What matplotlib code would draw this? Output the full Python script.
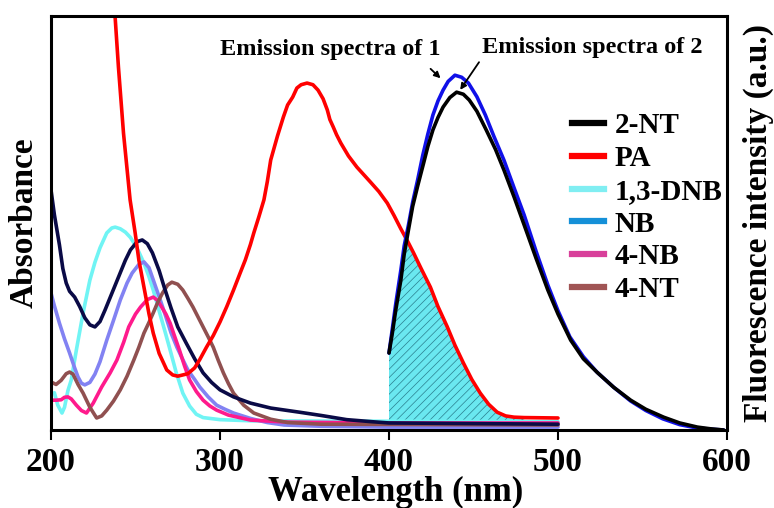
import numpy as np
import matplotlib
matplotlib.use("Agg")
import matplotlib.pyplot as plt
from matplotlib.lines import Line2D

plt.rcParams['font.family'] = ['Liberation Serif', 'DejaVu Serif']
plt.rcParams['font.weight'] = 'bold'
plt.rcParams['hatch.linewidth'] = 0.5

# absorption spectra (normalised absorbance)
wl_2nt = [200, 202, 205, 207, 209, 211, 214, 217, 220, 223, 226, 229, 232, 236,
          240, 244, 247, 251, 254, 257, 260, 264, 267, 271, 275, 280, 285, 290,
          295, 300, 308, 318, 330, 347, 360, 375, 390, 400, 500]
ab_2nt = [0.580, 0.520, 0.447, 0.390, 0.355, 0.335, 0.321, 0.298, 0.271, 0.254,
          0.249, 0.262, 0.290, 0.330, 0.370, 0.410, 0.435, 0.455, 0.459, 0.450,
          0.428, 0.385, 0.345, 0.295, 0.249, 0.210, 0.172, 0.138, 0.115, 0.097,
          0.080, 0.065, 0.053, 0.043, 0.035, 0.025, 0.020, 0.017, 0.014]

wl_nb = [200, 202, 205, 208, 211, 214, 216, 218, 220, 223, 226, 229, 233, 237,
         241, 245, 248, 252, 255, 258, 262, 265, 268, 271, 274.5, 278, 281, 285,
         288, 293, 298, 303, 308, 318, 328, 338, 360, 400, 500]
ab_nb = [0.331, 0.300, 0.258, 0.220, 0.186, 0.150, 0.128, 0.113, 0.109, 0.115,
         0.135, 0.165, 0.217, 0.265, 0.314, 0.355, 0.379, 0.400, 0.406, 0.392,
         0.345, 0.310, 0.273, 0.235, 0.200, 0.170, 0.145, 0.122, 0.104, 0.080,
         0.060, 0.050, 0.041, 0.028, 0.018, 0.012, 0.009, 0.007, 0.007]

wl_dnb = [202, 204, 206.5, 208, 210, 212, 215, 219, 223, 226, 229, 233, 236, 238,
          241, 244, 247, 249, 252, 255, 258, 260.5, 263, 265.5, 268, 270.5, 274,
          278, 282, 286, 290, 300, 320, 500]
ab_dnb = [0.090, 0.060, 0.041, 0.055, 0.095, 0.121, 0.193, 0.283, 0.362, 0.405,
          0.440, 0.476, 0.488, 0.490, 0.486, 0.478, 0.465, 0.452, 0.430, 0.403,
          0.370, 0.338, 0.302, 0.266, 0.230, 0.193, 0.140, 0.089, 0.058, 0.038,
          0.030, 0.025, 0.022, 0.020]

wl_4nb = [200, 203, 206, 208, 210, 212, 215, 218, 221, 225, 230, 235, 239, 243,
          246, 250, 253, 257, 260.5, 263, 265.5, 268, 270.5, 273, 276, 279, 282,
          286, 290, 294, 298, 305, 318, 340, 400, 500]
ab_4nb = [0.072, 0.072, 0.073, 0.079, 0.080, 0.075, 0.060, 0.047, 0.041, 0.065,
          0.104, 0.138, 0.169, 0.212, 0.249, 0.280, 0.297, 0.315, 0.321, 0.313,
          0.297, 0.280, 0.258, 0.228, 0.193, 0.155, 0.121, 0.093, 0.072, 0.058,
          0.048, 0.036, 0.024, 0.019, 0.017, 0.017]

wl_4nt = [200, 203, 206, 209, 211, 213, 216, 219, 223, 227, 230, 233, 237, 241,
          245, 249, 252, 255, 258, 260.5, 263, 266, 269, 271.5, 275, 278, 281,
          284, 287, 290, 293, 296, 299, 302, 305, 308, 314, 320, 330, 340, 360, 500]
ab_4nt = [0.116, 0.110, 0.120, 0.136, 0.140, 0.135, 0.110, 0.089, 0.055, 0.029,
          0.034, 0.048, 0.070, 0.097, 0.130, 0.169, 0.200, 0.234, 0.260, 0.283,
          0.307, 0.331, 0.350, 0.357, 0.352, 0.338, 0.318, 0.297, 0.273, 0.249,
          0.225, 0.200, 0.168, 0.138, 0.112, 0.089, 0.060, 0.041, 0.026, 0.018,
          0.014, 0.012]

wl_pa = [236, 237.9, 239.9, 242.9, 246.8, 249.8, 252, 255, 258, 260.5, 264, 268.5,
         272, 275, 278, 281, 285, 288, 292, 296, 300, 304, 308, 312, 315, 318, 320,
         323, 326, 328, 330, 334, 337.5, 340, 343, 345.5, 348, 351.5, 355, 358, 361,
         363.5, 365, 367, 369, 371.5, 376, 381, 385, 389, 394, 399, 403, 407, 411,
         414.5, 419, 424.5, 429, 434.5, 439, 444, 449, 454, 459, 464, 469, 474, 480,
         500]
ab_pa = [1.08, 1.0, 0.877, 0.717, 0.556, 0.476, 0.410, 0.345, 0.280, 0.234, 0.185,
         0.145, 0.133, 0.130, 0.133, 0.136, 0.150, 0.170, 0.200, 0.228, 0.261, 0.298,
         0.338, 0.380, 0.411, 0.448, 0.476, 0.515, 0.556, 0.600, 0.652, 0.710, 0.756,
         0.785, 0.804, 0.826, 0.834, 0.838, 0.834, 0.821, 0.800, 0.773, 0.750, 0.732,
         0.713, 0.693, 0.662, 0.635, 0.617, 0.599, 0.576, 0.548, 0.518, 0.486, 0.456,
         0.428, 0.390, 0.345, 0.298, 0.249, 0.205, 0.162, 0.122, 0.089, 0.062, 0.043,
         0.034, 0.031, 0.030, 0.029]

# emission spectra of 1 and 2
wl_em2 = [400, 402, 404, 407, 409, 411.5, 414, 417, 420.5, 423, 426, 429, 432, 436,
          440, 444, 447.5, 452, 457.5, 463, 468, 474, 480, 487, 494, 500, 507.5,
          515, 523.5, 533, 543, 552, 562.5, 572, 582.5, 590, 598]
em2 = [0.186, 0.235, 0.290, 0.362, 0.425, 0.483, 0.540, 0.590, 0.645, 0.685, 0.725,
       0.755, 0.780, 0.803, 0.816, 0.811, 0.797, 0.770, 0.725, 0.678, 0.628, 0.563,
       0.495, 0.415, 0.338, 0.280, 0.217, 0.172, 0.138, 0.103, 0.072, 0.050, 0.031,
       0.017, 0.007, 0.003, 0.0]

wl_em1 = [400, 402, 404, 407, 409, 411.5, 414, 417, 420, 423, 426, 429, 432, 435,
          439, 443, 447, 452, 457, 462, 468, 474, 480, 487, 494, 500, 507, 515, 523,
          533, 543, 552, 562, 572, 582, 590, 598]
em1 = [0.186, 0.245, 0.305, 0.386, 0.445, 0.495, 0.550, 0.605, 0.664, 0.715, 0.761,
       0.795, 0.821, 0.842, 0.857, 0.852, 0.838, 0.805, 0.761, 0.710, 0.652, 0.585,
       0.519, 0.432, 0.350, 0.288, 0.225, 0.177, 0.140, 0.103, 0.070, 0.047, 0.027,
       0.013, 0.005, 0.002, 0.0]

legend_labels = ['2-NT', 'PA', '1,3-DNB', 'NB', '4-NB', '4-NT']
legend_colors = ['#000000', '#ff0000', '#80eef2', '#1590d8', '#d8409a', '#a05555']

fig = plt.figure(figsize=(7.74, 5.08), dpi=100)
ax = fig.add_axes([51 / 774, 78 / 508, 676 / 774, 414 / 508])

lw = 2.6
kw = dict(lw=lw, solid_joinstyle='round', solid_capstyle='round')
ax.plot(wl_dnb, ab_dnb, color='#70f4f4', **kw)
ax.plot(wl_nb, ab_nb, color='#8282f2', **kw)
ax.plot(wl_4nb, ab_4nb, color='#ff1a8c', **kw)
ax.plot(wl_4nt, ab_4nt, color='#905050', **kw)
ax.plot(wl_2nt, ab_2nt, color='#0a0a46', **kw)
ax.plot(wl_pa, ab_pa, color='#ff0000', **kw)

# overlap of PA absorption and emission of 2
xs = np.unique(np.array([w for w in wl_pa if 400 <= w <= 480] +
                        [w for w in wl_em2 if 400 <= w <= 420.5]))
top = np.minimum(np.interp(xs, wl_pa, ab_pa), np.interp(xs, wl_em2, em2))
ax.fill_between(xs, 0.017, top, facecolor='#6ae8f0', edgecolor='#2a7f8f',
                hatch='////', linewidth=0, zorder=1.5)

ax.plot(wl_em1, em1, color='#1010e8', **kw)
ax.plot(wl_em2, em2, color='#000000', **kw)

ax.set_xlim(200, 600)
ax.set_ylim(0, 1)
ax.set_xticks([200, 300, 400, 500, 600])
ax.set_yticks([])
ax.tick_params(axis='x', direction='out', length=7, width=1.5, pad=5, labelsize=24)
for sp in ax.spines.values():
    sp.set_linewidth(2.2)

ax.set_ylabel('Absorbance', fontsize=24, fontweight='bold')
ax.yaxis.set_label_coords(-0.017, 0.5)
ax.text(0.51, -0.152, 'Wavelength (nm)', transform=ax.transAxes, ha='center',
        va='center', fontsize=25, fontweight='bold')
ax.text(1.046, 0.5, 'Fluorescence intensity (a.u.)', transform=ax.transAxes,
        ha='center', va='center', rotation=90, fontsize=24, fontweight='bold')

ax.annotate('', xy=(431.7, 0.845), xytext=(423.4, 0.877),
            arrowprops=dict(arrowstyle='-|>', color='black', lw=1.3, mutation_scale=9))
ax.annotate('', xy=(441.2, 0.816), xytext=(454.2, 0.894),
            arrowprops=dict(arrowstyle='-|>', color='black', lw=1.3, mutation_scale=9))
ax.text(365.3, 0.918, 'Emission spectra of 1', ha='center', va='center',
        fontsize=17.5, fontweight='bold')
ax.text(520, 0.923, 'Emission spectra of 2', ha='center', va='center',
        fontsize=17.5, fontweight='bold')

handles = [Line2D([], [], color=c, lw=4.5) for c in legend_colors]
ax.legend(handles, legend_labels, loc='upper left', bbox_to_anchor=(0.771, 0.768),
          frameon=False, fontsize=21, handlelength=1.1, handletextpad=0.35,
          labelspacing=0.2, borderpad=0, borderaxespad=0)

fig.savefig('out.png', dpi=100)
